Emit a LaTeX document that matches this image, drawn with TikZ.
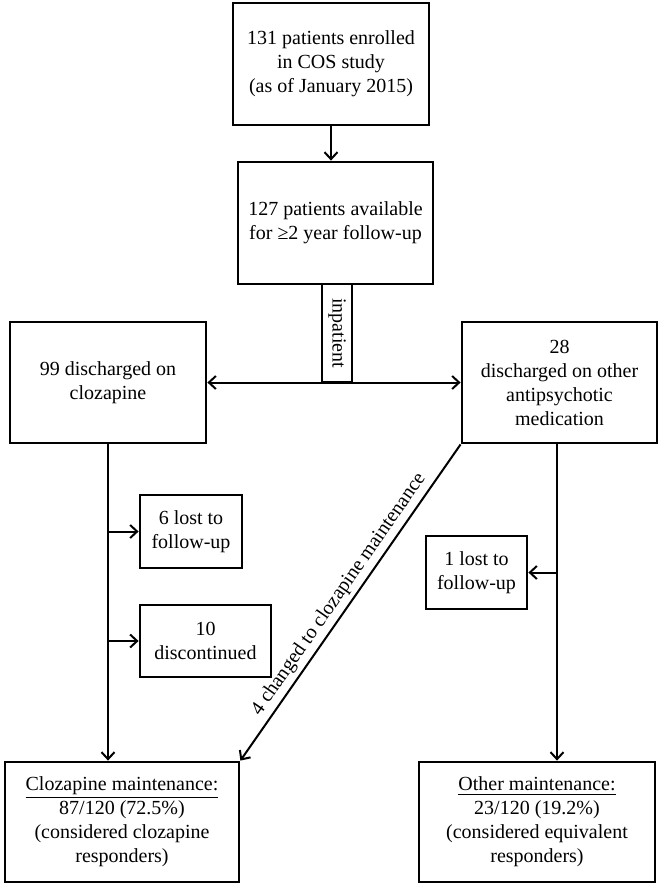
\documentclass[tikz,border=0pt]{standalone}
\usepackage{fontspec}
\setmainfont{Liberation Serif}
\usetikzlibrary{arrows.meta}

\begin{document}
\begin{tikzpicture}[x=0.5pt, y=-0.5pt, >={Straight Barb[length=3.5pt,width=6.5pt]}, line width=1pt,
    every node/.style={font=\fontsize{10}{12}\selectfont, align=center, inner sep=0pt},
    box/.style={draw, line width=1.4pt}]
  \useasboundingbox (0,0) rectangle (660,885);

  % === enrolment ===
  \node[box, minimum width=98pt, minimum height=61pt] (enrol) at (331,64)
    {131 patients enrolled\\in COS study\\(as of January 2015)};
  \node[box, minimum width=97.5pt, minimum height=61pt] (avail) at (335.5,223)
    {127 patients available\\for ≥2 year follow-up};
  \draw[->] (enrol.south) -- (enrol.south |- avail.north);

  % === discharge ===
  \node[box, minimum width=98pt, minimum height=60.5pt] (clozd) at (108,382.5)
    {99 discharged on\\clozapine};
  \node[box, minimum width=97.5pt, minimum height=60.5pt] (otherd) at (559.5,382.5)
    {28\\discharged on other\\antipsychotic\\medication};
  \node[draw, line width=1pt, rotate=-90, minimum width=49pt, minimum height=15pt] (inpat) at (337,333) {inpatient};
  \draw[<->] (clozd.east) -- (otherd.west);
  \coordinate (rtop) at ([xshift=-1.25pt]otherd.south);

  % === losses ===
  \node[box, minimum width=51pt, minimum height=36.5pt] (lostA) at (191,531.5)
    {6 lost to\\follow-up};
  \node[box, minimum width=65.5pt, minimum height=36pt] (discA) at (205.5,641)
    {10\\discontinued};
  \node[box, minimum width=50.5pt, minimum height=36.5pt] (lostB) at (476.5,572.5)
    {1 lost to\\follow-up};

  % === maintenance ===
  \node[box, minimum width=117pt, minimum height=60pt] (clozm) at (122,822)
    {\underline{Clozapine maintenance:}\\87/120 (72.5\%)\\(considered clozapine\\responders)};
  \node[box, minimum width=118pt, minimum height=60pt] (otherm) at (537,822)
    {\underline{Other maintenance:}\\23/120 (19.2\%)\\(considered equivalent\\responders)};

  % flow lines
  \draw[->] (clozd.south) -- (clozd.south |- clozm.north);
  \draw[->] (clozd.south |- lostA.west) -- (lostA.west);
  \draw[->] (clozd.south |- discA.west) -- (discA.west);
  \draw[->] (rtop) -- (rtop |- otherm.north);
  \draw[->] (rtop |- lostB.east) -- (lostB.east);
  \draw[->] (otherd.south west) -- (clozm.north east)
    node[midway, sloped, above=2pt] {4 changed to clozapine maintenance};
\end{tikzpicture}
\end{document}
